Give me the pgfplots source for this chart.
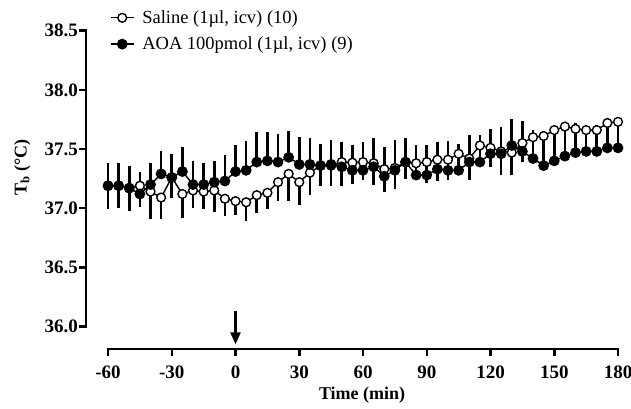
\documentclass[border=0pt]{standalone}
\usepackage{fontspec}
\setmainfont{Liberation Serif}
\usepackage{pgfplots}
\usepackage{pgfplotstable}
\pgfplotsset{compat=1.18}
\usetikzlibrary{arrows.meta}

% t, AOA mean, AOA +SEM, saline mean, saline -SEM
\pgfplotstableread{
t    aoa    aoaerr sal    salerr
-60  37.19  0.19   37.19  0.20
-55  37.19  0.19   37.19  0.19
-50  37.17  0.19   37.17  0.19
-45  37.12  0.19   37.19  0.18
-40  37.20  0.18   37.14  0.23
-35  37.29  0.19   37.09  0.18
-30  37.26  0.20   37.26  0.17
-25  37.31  0.21   37.12  0.20
-20  37.20  0.20   37.15  0.15
-15  37.20  0.18   37.14  0.15
-10  37.22  0.18   37.15  0.18
-5   37.23  0.22   37.08  0.15
0    37.31  0.22   37.06  0.12
5    37.32  0.25   37.05  0.16
10   37.39  0.25   37.11  0.15
15   37.40  0.24   37.13  0.14
20   37.39  0.24   37.22  0.16
25   37.43  0.22   37.29  0.23
30   37.37  0.23   37.22  0.19
35   37.37  0.22   37.30  0.19
40   37.36  0.18   37.36  0.17
45   37.37  0.21   37.36  0.17
50   37.35  0.21   37.39  0.20
55   37.32  0.21   37.385 0.18
60   37.32  0.24   37.39  0.15
65   37.35  0.24   37.38  0.18
70   37.27  0.25   37.33  0.19
75   37.32  0.26   37.34  0.18
80   37.39  0.20   37.39  0.14
85   37.28  0.25   37.38  0.13
90   37.28  0.25   37.39  0.18
95   37.33  0.23   37.41  0.18
100  37.32  0.25   37.41  0.17
105  37.32  0.22   37.46  0.12
110  37.39  0.23   37.42  0.18
115  37.39  0.23   37.53  0.18
120  37.46  0.21   37.51  0.16
125  37.46  0.23   37.48  0.20
130  37.53  0.22   37.47  0.19
135  37.48  0.26   37.55  0.16
140  37.42  0.24   37.60  0.15
145  37.36  0.29   37.61  0.15
150  37.40  0.27   37.66  0.15
155  37.44  0.28   37.69  0.15
160  37.47  0.25   37.67  0.15
165  37.48  0.22   37.66  0.15
170  37.48  0.22   37.66  0.15
175  37.51  0.25   37.72  0.15
180  37.51  0.25   37.73  0.15
}\tbdata

\begin{document}
\begin{tikzpicture}
\begin{axis}[
    scale only axis,
    width=532pt, height=318.3pt,
    xmin=-70.35, xmax=180,
    ymin=35.81, ymax=38.5,
    enlargelimits=false,
    clip=false,
    axis lines*=left,
    axis line style={draw=none},
    xtick={-60,-30,0,30,60,90,120,150,180},
    ytick={36,36.5,37,37.5,38,38.5},
    tick align=outside,
    major tick length=7pt,
    tick style={line width=2.5pt, black},
    /pgf/number format/assume math mode=true,
    tick label style={font=\bfseries\fontsize{19}{21}\selectfont},
    yticklabel style={inner xsep=1pt, /pgf/number format/.cd, fixed, fixed zerofill, precision=1},
    xticklabel style={yshift=-6pt},
    xlabel={\textbf{Time (min)}},
    xlabel style={font=\fontsize{18}{20}\selectfont, at={(rel axis cs:0.519,0)}, anchor=north, yshift=-34pt},
    ylabel={\textbf{T\textsubscript{b} (°C)}},
    ylabel style={font=\fontsize{18}{20}\selectfont, at={(rel axis cs:-0.12,0.569)}, anchor=center},
    legend style={at={(rel axis cs:0.045,1.07)}, anchor=north west, draw=none, fill=none,
        font=\fontsize{18.5}{20}\selectfont, row sep=8pt, column sep=6pt, inner sep=0pt},
    legend cell align=left,
    legend image code/.code={\draw[mark repeat=2, mark phase=2] plot coordinates {(0cm,0cm) (0.4cm,0cm) (0.8cm,0cm)};},
]
\addplot[black, line width=1.4pt, mark=*, mark size=4.4pt,
    mark options={solid, fill=white, line width=1.4pt},
    error bars/.cd, y dir=minus, y explicit, error mark=none,
    error bar style={line width=2.7pt}]
    table[x=t, y=sal, y error=salerr] {\tbdata};
\addlegendentry{Saline (1µl, icv) (10)}
\addplot[black, line width=1.4pt, mark=*, mark size=4.7pt,
    mark options={solid, fill=black},
    error bars/.cd, y dir=plus, y explicit, error mark=none,
    error bar style={line width=2.7pt}]
    table[x=t, y=aoa, y error=aoaerr] {\tbdata};
\addlegendentry{AOA 100pmol (1µl, icv) (9)}

% detached axis lines
\draw[line width=2.6pt, line cap=rect] (axis cs:-70.35,36) -- (axis cs:-70.35,38.5);
\draw[line width=2.6pt, line cap=rect] (axis cs:-60,35.81) -- (axis cs:180,35.81);
% injection arrow
\draw[line width=2.5pt, -{Triangle[length=12pt, width=10pt]}] (axis cs:0,36.13) -- (axis cs:0,35.85);

\coordinate (bbll) at (rel axis cs:-0.1617,-0.1854);
\coordinate (bbur) at (rel axis cs:1.0244,1.0965);
\end{axis}
\pgfresetboundingbox
\path (bbll) rectangle (bbur);
\end{tikzpicture}
\end{document}
